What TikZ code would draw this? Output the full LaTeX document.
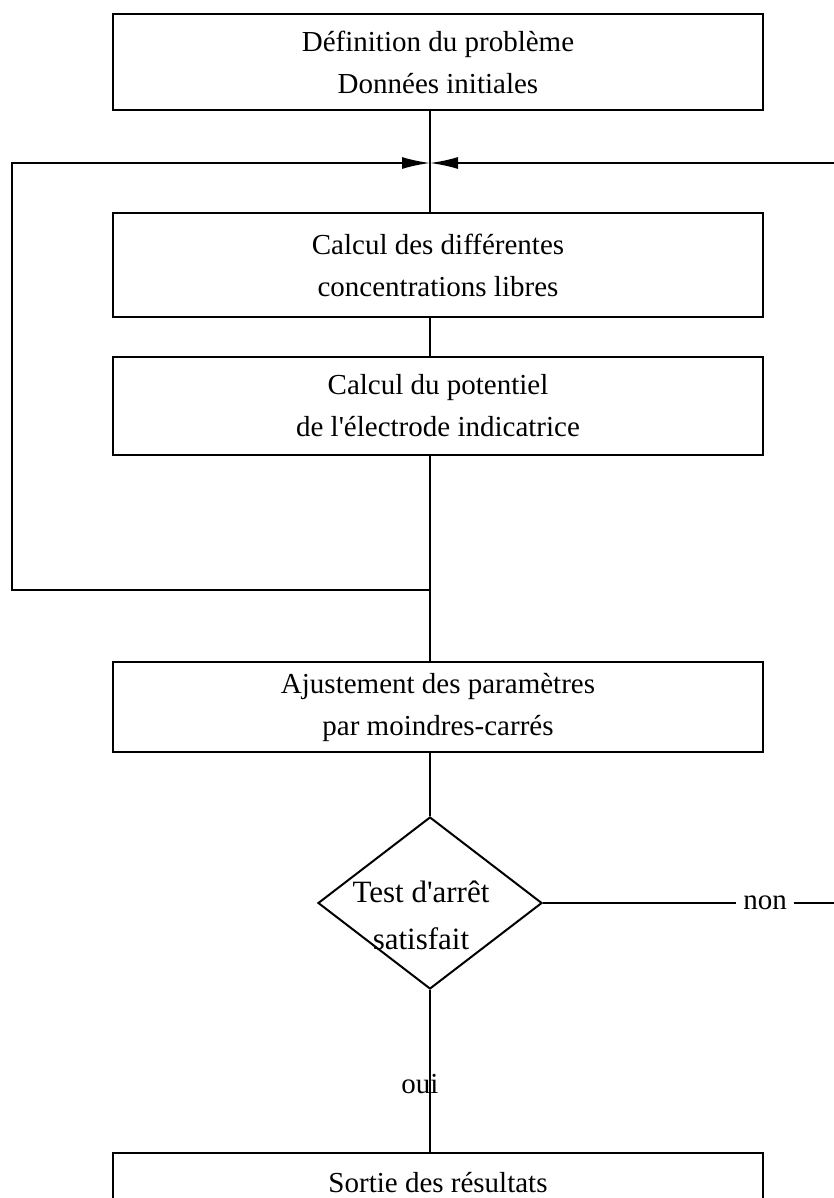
\documentclass[tikz,border=0pt]{standalone}
\usepackage{fontspec}
\setmainfont{Liberation Serif}
\usetikzlibrary{arrows.meta,shapes.geometric,positioning}

\begin{document}
\begin{tikzpicture}[x=0.5pt, y=-0.5pt,
  etape/.style={draw, line width=1pt, minimum width=325pt, minimum height=52pt, inner sep=0pt, align=center, font=\fontsize{14.5}{21}\selectfont},
  test/.style={draw, diamond, line width=1pt, minimum width=112pt, minimum height=86pt, inner sep=0pt},
  lien/.style={line width=1pt},
  fleche/.style={-{Latex[length=14pt,width=6pt]}}]
\useasboundingbox (0,0) rectangle (834,1198);
\clip (0,0) rectangle (834,1198);

\node[etape, minimum height=48pt] (def) at (438,62) {Définition du problème\\Données initiales};
\node[etape] (calc) at (438,265) {Calcul des différentes\\concentrations libres};
\node[etape, minimum height=49pt] (pot) at (438,406) {Calcul du potentiel\\de l\textquotesingle électrode indicatrice};
\node[etape, minimum height=45pt] (ajust) at (438,707) {Ajustement des paramètres\\par moindres-carrés};
\node[test, label={[align=center, font=\fontsize{15.5}{23.5}\selectfont, xshift=-4.5pt, yshift=-6pt]center:Test d\textquotesingle arrêt\\satisfait}] (arret) at (430,903) {};
\node[etape, minimum height=30pt] (sortie) at (438,1183) {Sortie des résultats};
\node[font=\fontsize{14.5}{21}\selectfont] (non) at (765,903) {non};
\node[font=\fontsize{14.5}{21}\selectfont] (oui) at (420,1084) {oui};

\coordinate (axe) at (430,0);
\coordinate (jonction) at (430,163);
\coordinate (retour) at (430,590);
\coordinate (coin) at (12,163);
\coordinate (bord) at (834,163);

% Connectors
\draw[lien] (def.south -| axe) -- (calc.north -| axe);
\draw[lien] (calc.south -| axe) -- (pot.north -| axe);
\draw[lien] (pot.south -| axe) -- (ajust.north -| axe);
\draw[lien] (ajust.south -| axe) -- (arret.north);
\draw[lien] (arret.south) -- (sortie.north -| arret.south);
\draw[lien, fleche] (retour) -| (coin) -- (jonction);
\draw[lien, fleche] (bord) -- (jonction);
\draw[lien] (arret.east) -- (non.west);
\draw[lien] (non.east) -- (non.east -| bord);
\end{tikzpicture}
\end{document}
